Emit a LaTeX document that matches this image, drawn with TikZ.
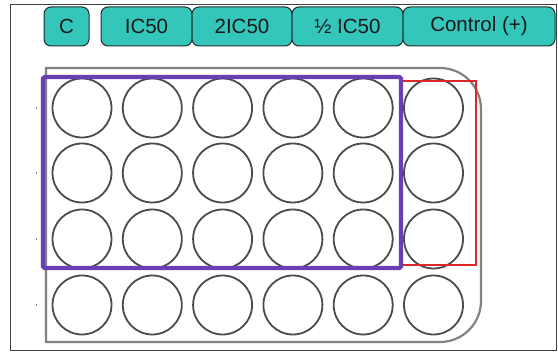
\documentclass[tikz,border=0pt]{standalone}
\usepackage{fontspec}
\setmainfont{Liberation Sans}
\usetikzlibrary{positioning}
\definecolor{tabteal}{RGB}{52,198,186}
\definecolor{tabline}{RGB}{35,45,45}
\definecolor{wellgray}{RGB}{75,75,75}
\definecolor{plategray}{RGB}{130,130,130}
\definecolor{boxpurple}{RGB}{106,62,180}
\definecolor{boxred}{RGB}{222,40,40}
\tikzset{
  tab/.style={draw=tabline, fill=tabteal, rounded corners=7pt, line width=1pt,
    minimum height=39pt, inner sep=0pt, text=black!90, font=\fontsize{20.5}{24}\selectfont},
  well/.style={draw=wellgray, line width=1.8pt},
  plate/.style={draw=plategray, line width=2.2pt},
  tick/.style={draw=black!45, line width=0.7pt}
}

\begin{document}
\begin{tikzpicture}[x=1pt,y=1pt]
\useasboundingbox (0,0) rectangle (558,-352);

% ---------------- Frame ----------------
\draw[black!75, line width=1pt] (10.5,-5) rectangle (556.5,-350.5);

% ---------------- Plate ----------------
\draw[plate] (46,-342) -- (46,-68) -- (440,-68) arc (90:0:41) -- (481,-301) arc (0:-90:41) -- cycle;

% ---------------- Wells ----------------
\foreach \y [count=\r] in {108,173,239,305} {
  \draw[tick] (36.5,-\y+1) -- (36.5,-\y-1);
  \foreach \c in {0,...,5}
    \draw[well] (82+70.3*\c,-\y) circle (29.5);
}

% ---------------- Groups ----------------
\draw[boxred, line width=1.2pt] (401,-81) rectangle (476,-265);
\draw[boxpurple, line width=4.2pt, rounded corners=1.5pt] (43,-77) rectangle (401,-268);

% ---------------- Tabs ----------------
\node[tab, minimum width=45pt] (c) at (66.5,-26.5) {C};
\node[tab, minimum width=91pt] (ic) at (146.5,-26.5) {IC50};
\node[tab, minimum width=100pt] (twoic) at (242,-26.5) {2IC50};
\node[tab, minimum width=111pt] (halfic) at (347.5,-26.5) {½ IC50};
\node[tab, minimum width=152pt] (ctrl) at (479,-26.5) {Control (+)};

\end{tikzpicture}
\end{document}
